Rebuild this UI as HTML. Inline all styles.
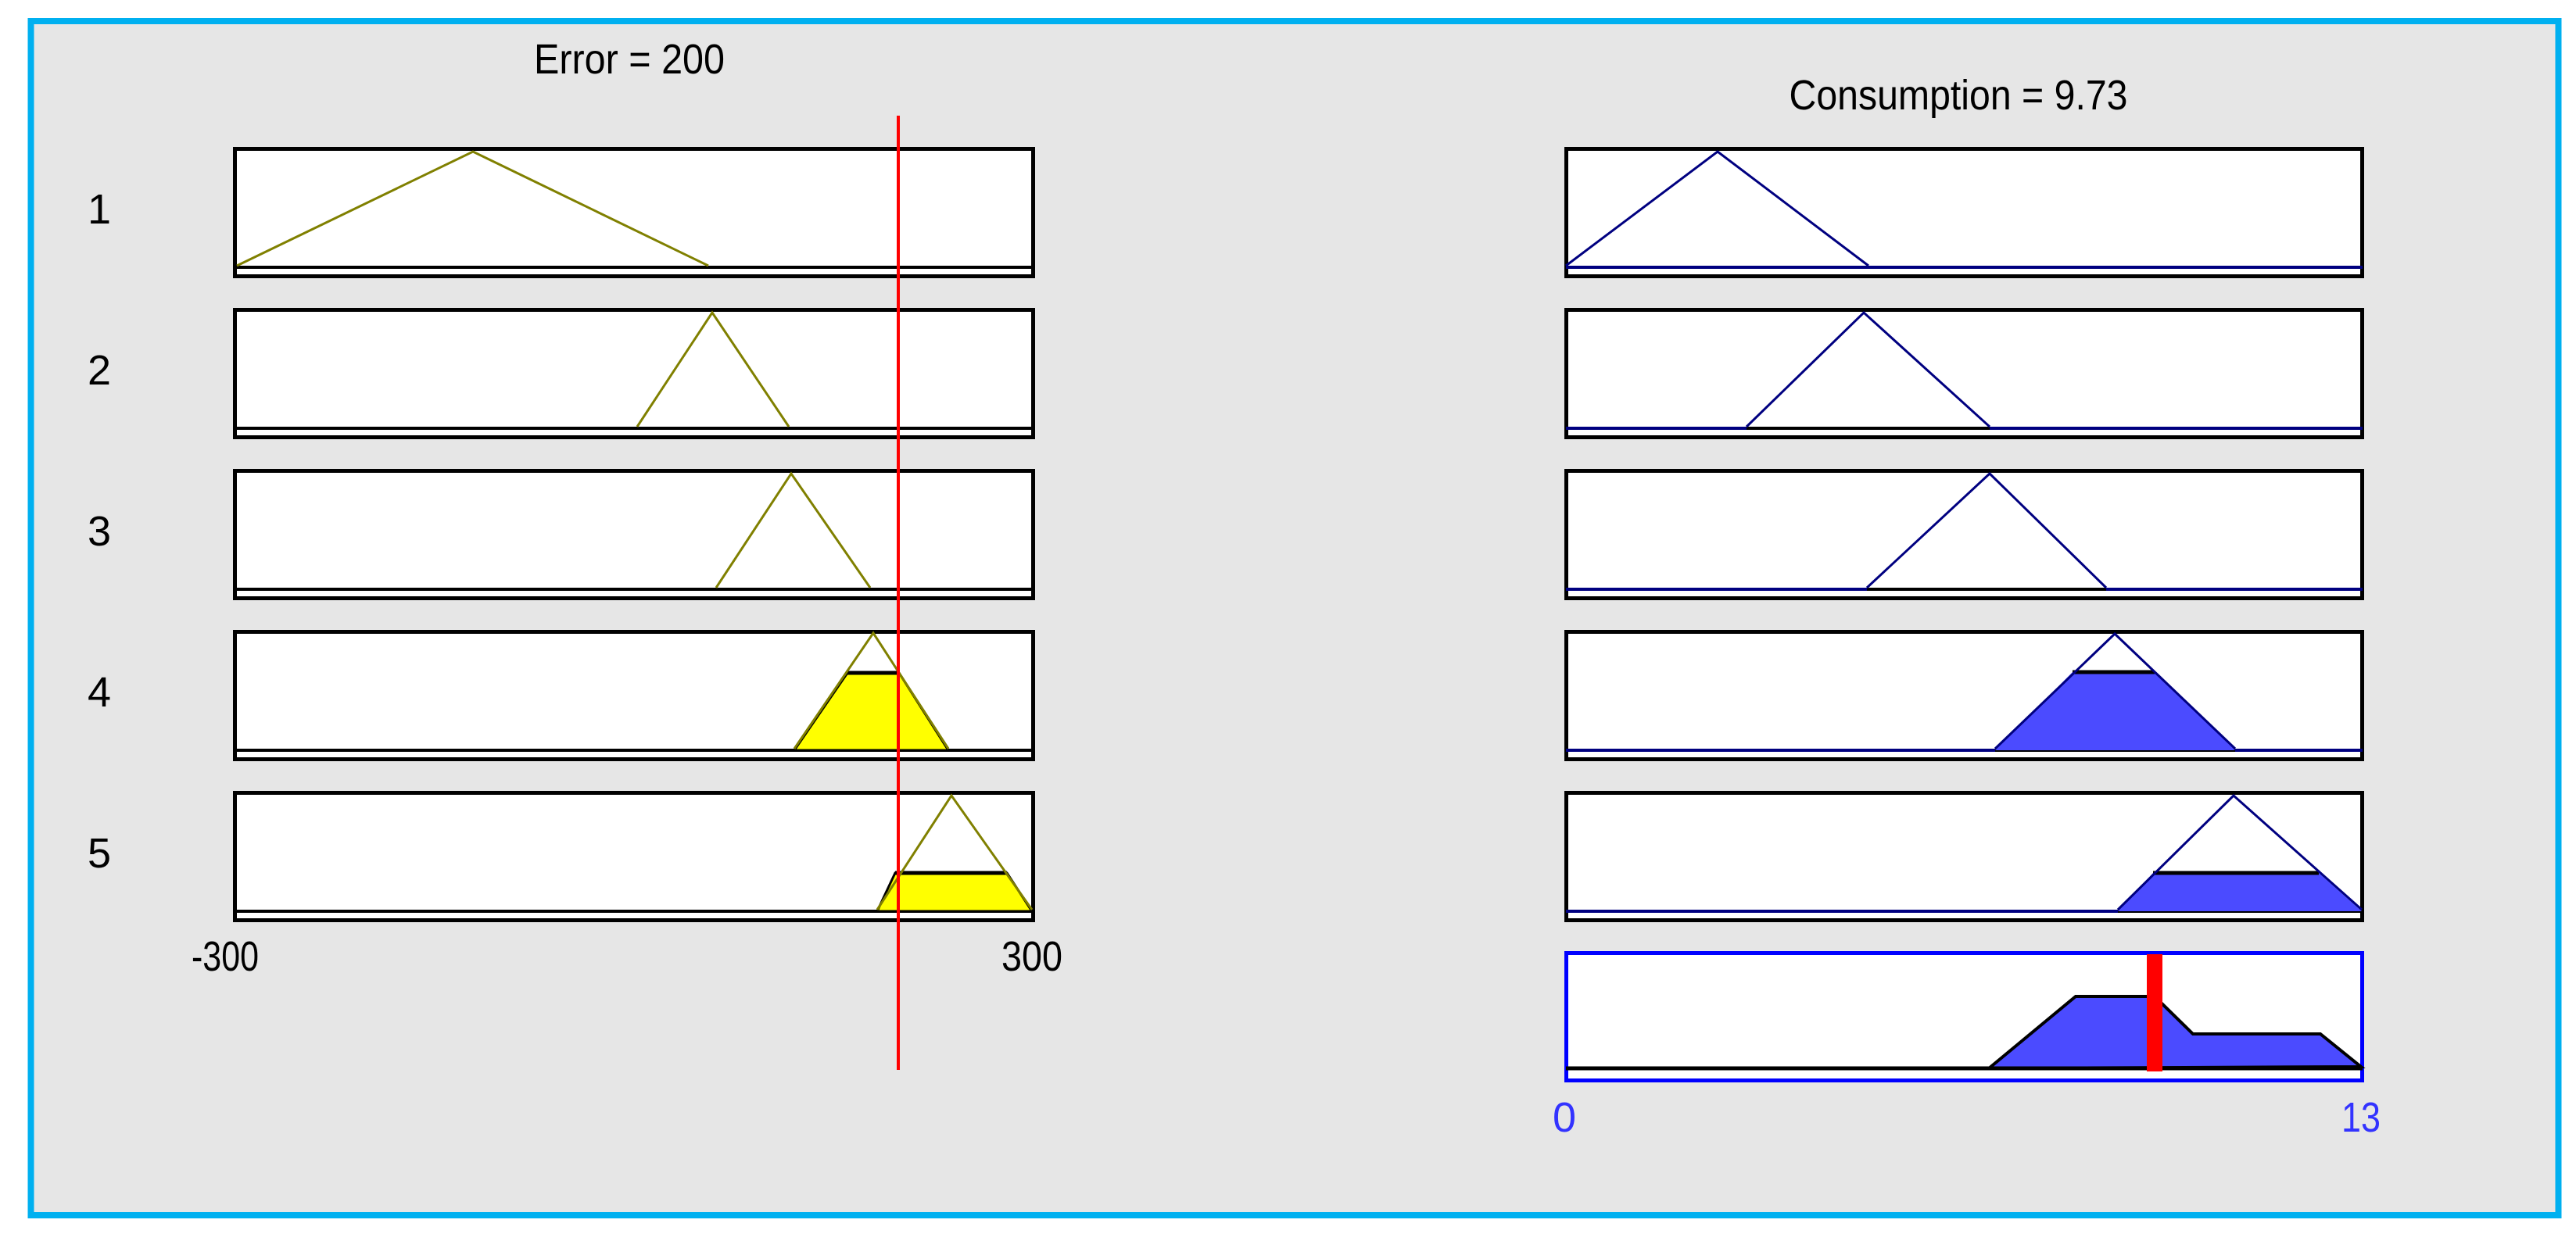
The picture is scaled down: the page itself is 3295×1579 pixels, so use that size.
<!DOCTYPE html>
<html><head><meta charset="utf-8"><style>
html,body{margin:0;padding:0;background:#fff}
svg{display:block}
text{font-family:"Liberation Sans",Arial,sans-serif}
</style></head><body>
<svg width="3295" height="1579" viewBox="0 0 3295 1579" xmlns="http://www.w3.org/2000/svg">
<rect x="0" y="0" width="3295" height="1579" fill="#fff"/>
<rect x="39.5" y="27" width="3233" height="1528" fill="#e6e6e6" stroke="#00b0f0" stroke-width="8"/>

<text x="805" y="94" font-size="54" text-anchor="middle" textLength="244" lengthAdjust="spacingAndGlyphs">Error = 200</text>
<text x="2505" y="140" font-size="54" text-anchor="middle" textLength="433" lengthAdjust="spacingAndGlyphs">Consumption = 9.73</text>

<g font-size="54" text-anchor="middle">
<text x="127" y="286">1</text>
<text x="127" y="492">2</text>
<text x="127" y="698">3</text>
<text x="127" y="904">4</text>
<text x="127" y="1110">5</text>
<text x="288" y="1242" textLength="86" lengthAdjust="spacingAndGlyphs">-300</text>
<text x="1320" y="1242" textLength="78" lengthAdjust="spacingAndGlyphs">300</text>
<text x="2001" y="1448" fill="#3333ff">0</text>
<text x="3020" y="1448" fill="#3333ff" textLength="50" lengthAdjust="spacingAndGlyphs">13</text>
</g>

<!-- Left boxes -->
<g stroke="#000" stroke-width="5" fill="#fff">
<rect x="300.5" y="190.5" width="1021" height="163"/>
<rect x="300.5" y="396.5" width="1021" height="163"/>
<rect x="300.5" y="602.5" width="1021" height="163"/>
<rect x="300.5" y="808.5" width="1021" height="163"/>
<rect x="300.5" y="1014.5" width="1021" height="163"/>
</g>
<g stroke="#000" stroke-width="4">
<line x1="300" y1="342" x2="1322" y2="342"/>
<line x1="300" y1="548" x2="1322" y2="548"/>
<line x1="300" y1="754" x2="1322" y2="754"/>
<line x1="300" y1="960" x2="1322" y2="960"/>
<line x1="300" y1="1166" x2="1322" y2="1166"/>
</g>
<polygon points="1016,960 1084,861 1150,861 1213,960" fill="#ffff00" stroke="#000" stroke-width="3"/>
<line x1="1084" y1="861" x2="1150" y2="861" stroke="#000" stroke-width="5"/>
<polygon points="1122,1166 1145,1117 1288,1117 1320,1166" fill="#ffff00" stroke="#000" stroke-width="3"/>
<line x1="1145" y1="1117" x2="1288" y2="1117" stroke="#000" stroke-width="5"/>
<g fill="none" stroke="#808000" stroke-width="3">
<polyline points="303,340 605,194 906,340"/>
<polyline points="815,546 911,400 1009,546"/>
<polyline points="916,752 1012,606 1113,752"/>
<polyline points="1016,958 1117,810 1213,958"/>
<polyline points="1122,1164 1217,1018 1320,1164"/>
</g>
<line x1="1149" y1="148" x2="1149" y2="1369" stroke="#ff0000" stroke-width="4"/>

<!-- Right boxes -->
<g stroke="#000" stroke-width="5" fill="#fff">
<rect x="2003.5" y="190.5" width="1018" height="163"/>
<rect x="2003.5" y="396.5" width="1018" height="163"/>
<rect x="2003.5" y="602.5" width="1018" height="163"/>
<rect x="2003.5" y="808.5" width="1018" height="163"/>
<rect x="2003.5" y="1014.5" width="1018" height="163"/>
</g>
<g stroke="#000080" stroke-width="4">
<line x1="2003" y1="342" x2="3022" y2="342"/>
<line x1="2003" y1="548" x2="3022" y2="548"/>
<line x1="2003" y1="754" x2="3022" y2="754"/>
<line x1="2003" y1="960" x2="3022" y2="960"/>
<line x1="2003" y1="1166" x2="3022" y2="1166"/>
</g>
<g stroke="#000" stroke-width="4">
<line x1="2234" y1="548" x2="2545" y2="548"/>
<line x1="2388" y1="754" x2="2694" y2="754"/>
<line x1="2552" y1="960" x2="2859" y2="960"/>
<line x1="2709" y1="1166" x2="3022" y2="1166"/>
</g>
<polygon points="2552,960 2651,860 2756,860 2859,960" fill="#4b4bff"/>
<line x1="2651" y1="860" x2="2756" y2="860" stroke="#000" stroke-width="5"/>
<polygon points="2709,1166 2754,1117 2966,1117 3021,1166" fill="#4b4bff"/>
<line x1="2754" y1="1117" x2="2966" y2="1117" stroke="#000" stroke-width="5"/>
<g fill="none" stroke="#000080" stroke-width="3">
<polyline points="2003,340 2197,194 2390,340"/>
<polyline points="2234,546 2384,400 2545,546"/>
<polyline points="2388,752 2545,606 2694,752"/>
<polyline points="2552,958 2705,811 2859,958"/>
<polyline points="2709,1164 2857,1018 3021,1164"/>
</g>

<!-- Output box -->
<rect x="2003.5" y="1219.5" width="1018" height="163" fill="#fff" stroke="#0000ff" stroke-width="5"/>
<polygon points="2544,1367 2655,1275 2756,1275 2805,1323 2968,1323 3020,1365" fill="#4b4bff" stroke="#000" stroke-width="4"/>
<line x1="2003" y1="1367" x2="3022" y2="1367" stroke="#000" stroke-width="5"/>
<rect x="2746" y="1221" width="20" height="150" fill="#ff0000"/>
</svg>
</body></html>
